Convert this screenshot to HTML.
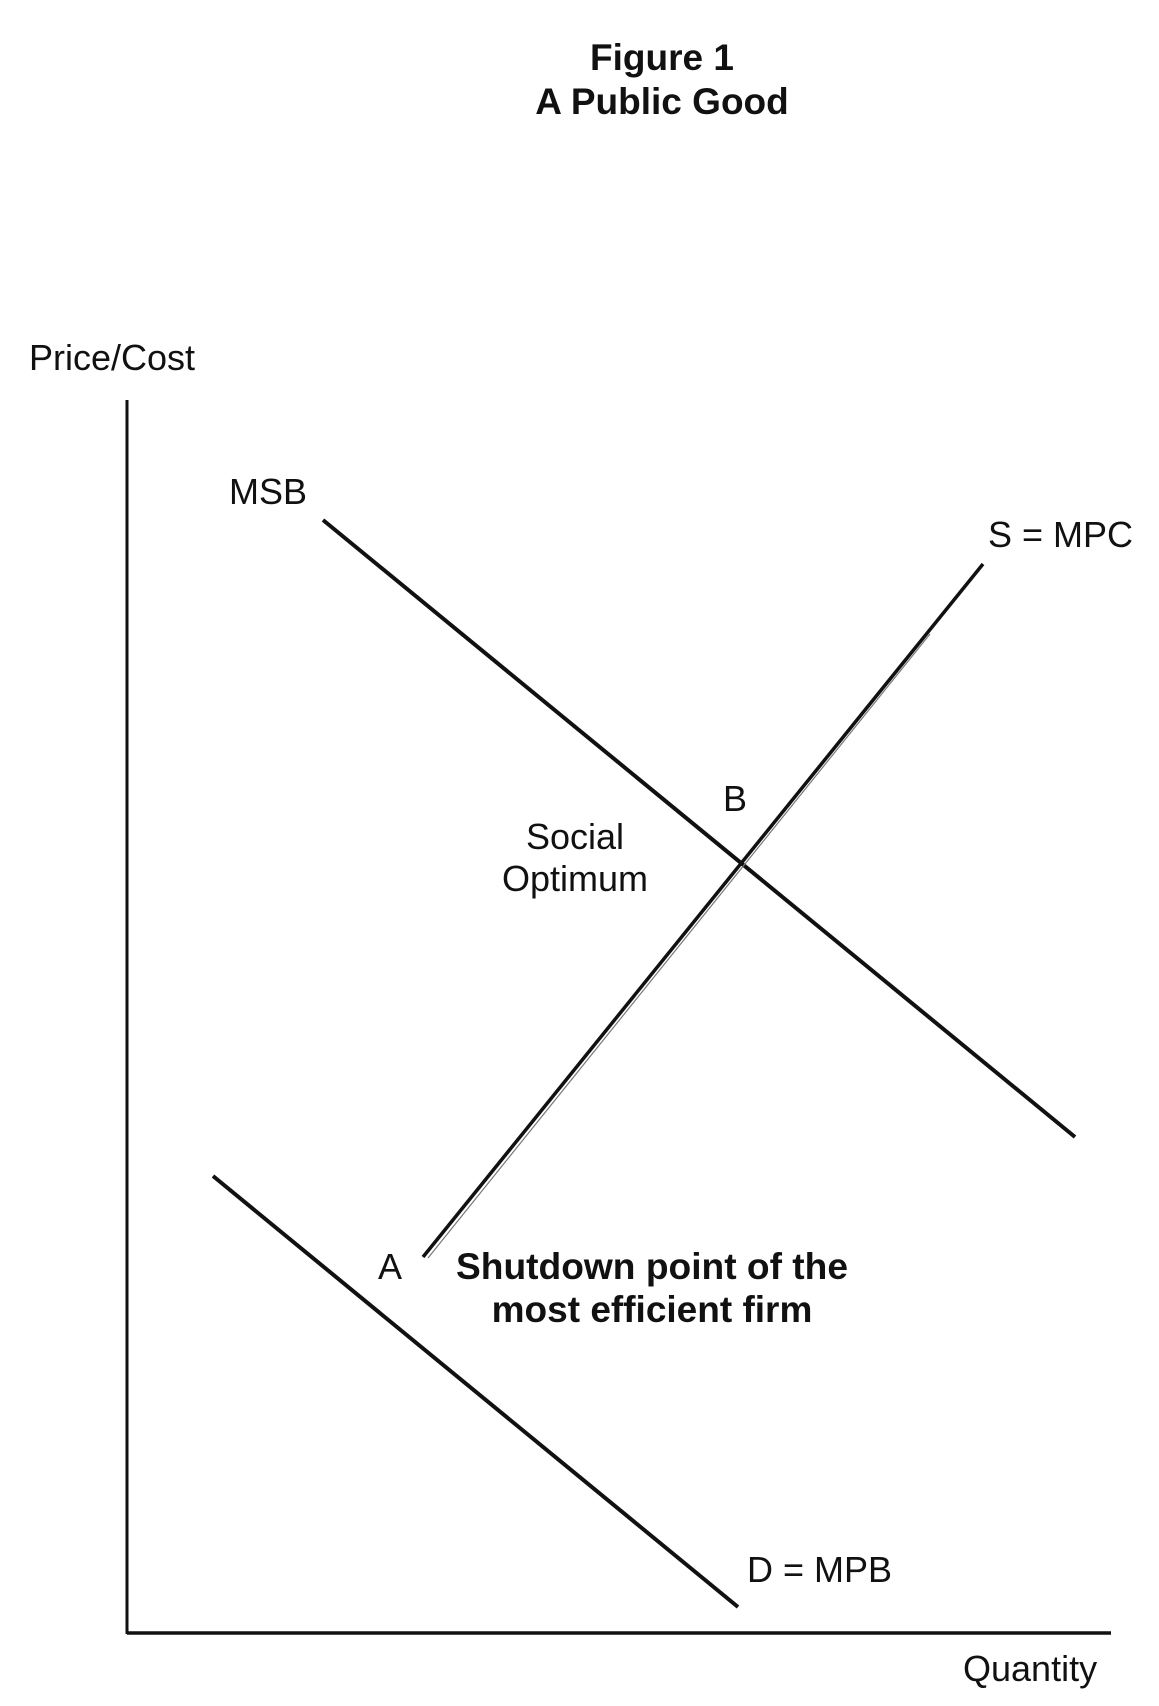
<!DOCTYPE html>
<html><head><meta charset="utf-8"><style>
html,body{margin:0;padding:0;background:#fff;}
svg{display:block;}
text{font-family:"Liberation Sans",Arial,sans-serif;fill:#111;}
</style></head><body>
<svg width="1159" height="1706" viewBox="0 0 1159 1706" xmlns="http://www.w3.org/2000/svg">
<text x="662" y="70" font-size="37" font-weight="bold" text-anchor="middle">Figure 1</text>
<text x="662" y="114" font-size="37" font-weight="bold" text-anchor="middle">A Public Good</text>
<text x="29" y="370" font-size="36">Price/Cost</text>
<line x1="127" y1="400" x2="127" y2="1634" stroke="#111" stroke-width="3"/>
<line x1="127" y1="1633" x2="1111" y2="1633" stroke="#111" stroke-width="3.5"/>
<text x="963" y="1681" font-size="36">Quantity</text>
<text x="229" y="504" font-size="36">MSB</text>
<line x1="323" y1="520" x2="1075" y2="1137" stroke="#111" stroke-width="4"/>
<text x="988" y="547" font-size="36">S = MPC</text>
<line x1="423" y1="1257" x2="983" y2="564" stroke="#111" stroke-width="3.5"/>
<line x1="428" y1="1258" x2="930" y2="634" stroke="#777" stroke-width="1.2"/>
<text x="723" y="811" font-size="36">B</text>
<text x="575" y="849" font-size="36" text-anchor="middle">Social</text>
<text x="575" y="891" font-size="36" text-anchor="middle">Optimum</text>
<text x="378" y="1279" font-size="36">A</text>
<text x="456" y="1279" font-size="37" font-weight="bold" textLength="392" lengthAdjust="spacingAndGlyphs">Shutdown point of the</text>
<text x="652" y="1322" font-size="37" font-weight="bold" text-anchor="middle">most efficient firm</text>
<line x1="213" y1="1176" x2="738" y2="1607" stroke="#111" stroke-width="4"/>
<text x="747" y="1582" font-size="36">D = MPB</text>
</svg>
</body></html>
